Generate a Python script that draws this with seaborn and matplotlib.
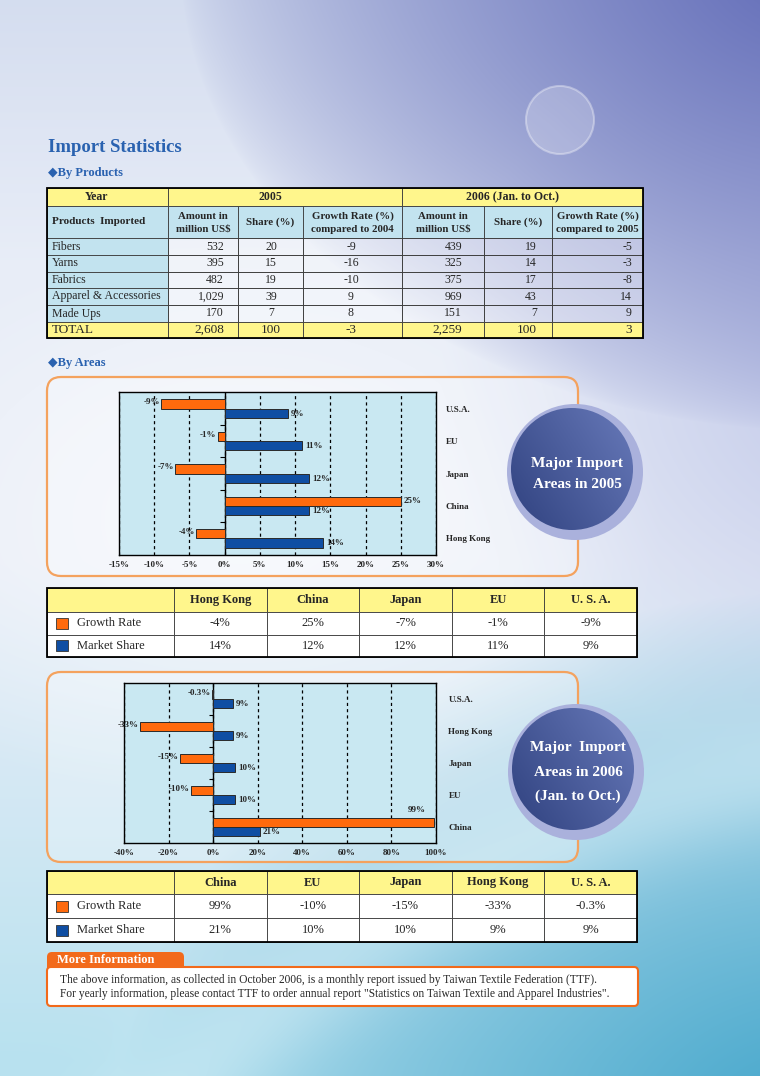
import numpy as np
import pandas as pd
import matplotlib
matplotlib.use("Agg")
import matplotlib.pyplot as plt
from matplotlib.patches import Rectangle, FancyBboxPatch, Circle
import seaborn as sns

# ---- data ----
products = ["Fibers", "Yarns", "Fabrics", "Apparel & Accessories", "Made Ups"]
amount_2005 = [532, 395, 482, 1029, 170]
share_2005 = [20, 15, 19, 39, 7]
growth_2005 = [-9, -16, -10, 9, 8]
amount_2006 = [439, 325, 375, 969, 151]
share_2006 = [19, 14, 17, 43, 7]
growth_2006 = [-5, -3, -8, 14, 9]
total_2005 = [2608, 100, -3]
total_2006 = [2259, 100, 3]

areas_2005 = ["U.S.A.", "EU", "Japan", "China", "Hong Kong"]
area_growth_2005 = [-9, -1, -7, 25, -4]
area_share_2005 = [9, 11, 12, 12, 14]

areas_2006 = ["U.S.A.", "Hong Kong", "Japan", "EU", "China"]
area_growth_2006 = [-0.3, -33, -15, -10, 99]
area_share_2006 = [9, 9, 10, 10, 21]

series_names = ["Growth Rate", "Market Share"]
table_area_names = {"U.S.A.": "U. S. A."}

ORANGE = "#ff6a0d"
BLUE = "#0f4ea3"
YELLOW = "#fff68c"
LIGHT_BLUE = "#c2e3ef"
TITLE_BLUE = "#2a62b0"
BOX_ORANGE = "#f4a25e"

W, H = 760, 1076

sns.set_style("white")
plt.rcParams["font.family"] = ["Liberation Serif", "DejaVu Sans"]

fig = plt.figure(figsize=(W / 100, H / 100), dpi=100)

# page axes in pixel coordinates
page = fig.add_axes([0, 0, 1, 1])
page.set_xlim(0, W)
page.set_ylim(H, 0)
page.axis("off")

# ---- background ----
yy, xx = np.mgrid[0:H, 0:W].astype(float)
img = np.ones((H, W, 3)) * np.array([0.91, 0.93, 0.97])


def blend(img, w, color):
    w = np.clip(w, 0, 1)[..., None]
    return img * (1 - w) + np.array(color) * w


# top band tint
img = blend(img, np.clip(1 - yy / 260, 0, 1) * 0.45, (0.74, 0.79, 0.90))
# right side lavender
r = np.hypot((xx - 860) / 420, (yy - 380) / 380)
img = blend(img, np.clip(1 - r, 0, 1) * 0.7, (0.70, 0.73, 0.89))
# lower cyan
img = blend(img, np.clip((yy - 560) / 500, 0, 1) ** 1.1 * 0.65, (0.62, 0.86, 0.92))
# bottom right teal
r = np.hypot((xx - 830) / 720, (yy - 1150) / 560)
img = blend(img, np.clip(1 - r, 0, 1) ** 0.9, (0.25, 0.64, 0.79))
# top right purple
r = np.hypot((xx - 820) / 640, (yy + 40) / 470)
img = blend(img, np.clip(1 - r, 0, 1) ** 0.7, (0.38, 0.42, 0.72))
# light centre
r = np.hypot((xx - 240) / 420, (yy - 520) / 290)
img = blend(img, np.clip(1 - r, 0, 1) * 0.65, (1.0, 1.0, 1.0))
# soft light swoosh in the lower part
d = np.hypot(xx - 1000, yy - 1900)
img = blend(img, np.exp(-((d - 1150) / 60) ** 2) * 0.35, (0.9, 0.97, 0.99))
page.imshow(img, extent=[0, W, H, 0], aspect="auto", zorder=0)

# decorative bubble
page.add_patch(Circle((560, 120), 34, fc=(1, 1, 1, 0.22), ec=(1, 1, 1, 0.35), lw=1.5, zorder=1))

# ---- titles ----
page.text(48, 147, "Import Statistics", fontsize=13.5, fontweight="bold",
          color=TITLE_BLUE, va="center", ha="left")
page.text(48, 173, "◆By Products", fontsize=9, fontweight="bold",
          color=TITLE_BLUE, va="center", ha="left")
page.text(48, 363, "◆By Areas", fontsize=9, fontweight="bold",
          color=TITLE_BLUE, va="center", ha="left")


def cell(x0, y0, x1, y1, fc, lw=0.6):
    page.add_patch(Rectangle((x0, y0), x1 - x0, y1 - y0, fc=fc, ec="#3a3a3a", lw=lw, zorder=2))


# ---- table 1: by products ----
col_x = [47, 168, 238, 303, 402, 484, 552, 643]
row_y = [188, 206, 238, 255, 272, 288, 305, 322, 338]

cell(col_x[0], row_y[0], col_x[1], row_y[1], YELLOW)
cell(col_x[1], row_y[0], col_x[4], row_y[1], YELLOW)
cell(col_x[4], row_y[0], col_x[7], row_y[1], YELLOW)
page.text(97, 197, "Year", fontsize=8.5, fontweight="bold", ha="center", va="center", zorder=3)
page.text(270, 197, "2005", fontsize=8.5, fontweight="bold", ha="center", va="center", zorder=3)
page.text(513, 197, "2006 (Jan. to Oct.)", fontsize=8.5, fontweight="bold", ha="center", va="center", zorder=3)

sub_headers = ["Amount in\nmillion US$", "Share (%)", "Growth Rate (%)\ncompared to 2004",
               "Amount in\nmillion US$", "Share (%)", "Growth Rate (%)\ncompared to 2005"]
cell(col_x[0], row_y[1], col_x[1], row_y[2], LIGHT_BLUE)
page.text(52, 222, "Products  Imported", fontsize=8, fontweight="bold", ha="left", va="center", zorder=3)
for i, txt in enumerate(sub_headers):
    cell(col_x[i + 1], row_y[1], col_x[i + 2], row_y[2], LIGHT_BLUE)
    page.text((col_x[i + 1] + col_x[i + 2]) / 2, 222.5, txt, fontsize=7.8, fontweight="bold",
              ha="center", va="center", linespacing=1.55, zorder=3)

# x position and alignment of each data column
data_pos = [(224, "right"), (271, "center"), (351, "center"),
            (462, "right"), (537, "right"), (632, "right")]
for r_i, name in enumerate(products):
    y0, y1 = row_y[r_i + 2], row_y[r_i + 3]
    cell(col_x[0], y0, col_x[1], y1, LIGHT_BLUE)
    for c in range(1, 7):
        cell(col_x[c], y0, col_x[c + 1], y1, (1, 1, 1, 0.35))
    vals = [f"{amount_2005[r_i]:,}", f"{share_2005[r_i]}", f"{growth_2005[r_i]}",
            f"{amount_2006[r_i]:,}", f"{share_2006[r_i]}", f"{growth_2006[r_i]}"]
    yc = (y0 + y1) / 2
    page.text(52, yc, name, fontsize=8.5, ha="left", va="center", zorder=3)
    for (x, ha), v in zip(data_pos, vals):
        page.text(x, yc, v, fontsize=8.5, ha=ha, va="center", zorder=3)

y0, y1 = row_y[-2], row_y[-1]
for c in range(7):
    cell(col_x[c], y0, col_x[c + 1], y1, YELLOW)
yc = (y0 + y1) / 2
page.text(52, yc, "TOTAL", fontsize=9.5, ha="left", va="center", zorder=3)
tot_vals = [f"{total_2005[0]:,}", f"{total_2005[1]}", f"{total_2005[2]}",
            f"{total_2006[0]:,}", f"{total_2006[1]}", f"{total_2006[2]}"]
for (x, ha), v in zip(data_pos, tot_vals):
    page.text(x, yc, v, fontsize=9.5, ha=ha, va="center", zorder=3)
page.add_patch(Rectangle((47, 188), 643 - 47, 338 - 188, fc="none", ec="black", lw=1.3, zorder=4))


# ---- rounded boxes and circles ----
def round_box(x0, y0, x1, y1):
    page.add_patch(FancyBboxPatch((x0, y0), x1 - x0, y1 - y0,
                                  boxstyle="round,pad=0,rounding_size=14",
                                  fc=(1, 1, 1, 0.25), ec=BOX_ORANGE, lw=1.6, zorder=1))


def badge(cx, cy, lines, text_y, spacing):
    page.add_patch(Circle((cx, cy), 68, fc="#aab1dc", ec="none", zorder=3))
    inner = Circle((cx - 3, cy - 3), 61, fc="none", ec="none", zorder=4)
    page.add_patch(inner)
    gy, gx = np.mgrid[0:64, 0:64] / 63.0
    grad = np.clip(0.25 + 0.55 * gx - 0.35 * gy + 0.3, 0, 1)
    c0 = np.array([0.14, 0.21, 0.45])
    c1 = np.array([0.38, 0.45, 0.70])
    gimg = c0 + (c1 - c0) * grad[..., None]
    im = page.imshow(gimg, extent=[cx - 64, cx + 58, cy + 58, cy - 64], zorder=4, aspect="auto")
    im.set_clip_path(inner)
    for k, line in enumerate(lines):
        page.text(cx + 2, text_y + k * spacing, line, fontsize=11, fontweight="bold",
                  color="white", ha="center", va="center", zorder=5)


round_box(47, 377, 578, 576)
badge(575, 472, ["Major Import", "Areas in 2005"], 463, 22)
round_box(47, 672, 578, 862)
badge(576, 772, ["Major  Import", "Areas in 2006", "(Jan. to Oct.)"], 748, 24)


# ---- bar charts ----
def px_axes(x0, y0, x1, y1):
    return fig.add_axes([x0 / W, 1 - y1 / H, (x1 - x0) / W, (y1 - y0) / H])


def area_chart(ax, areas, growth, share, xlim, step, sep_len):
    df = pd.DataFrame({
        "area": areas * 2,
        "value": growth + share,
        "series": [series_names[0]] * len(areas) + [series_names[1]] * len(areas),
    })
    ax.set_facecolor("#c9e8f2")
    sns.barplot(data=df, x="value", y="area", hue="series", order=areas,
                hue_order=series_names, palette=[ORANGE, BLUE], orient="h",
                width=0.56, gap=0, saturation=1, edgecolor="#2a2a2a",
                linewidth=0.7, legend=False, ax=ax, zorder=3)
    ax.set_xlim(*xlim)
    ticks = np.arange(xlim[0], xlim[1] + step / 2, step)
    ax.set_xticks(ticks)
    ax.set_xticklabels([f"{t:g}%" for t in ticks], fontsize=6.5, fontweight="bold")
    ax.grid(axis="x", color="black", linestyle=(0, (2.5, 2.5)), lw=0.9, zorder=1)
    ax.grid(axis="y", visible=False)
    ax.axvline(0, color="black", lw=1.0, zorder=2)
    ax.hlines(np.arange(len(areas) - 1) + 0.5, -sep_len, 0, colors="black", lw=0.8, zorder=2)
    ax.yaxis.tick_right()
    ax.tick_params(axis="y", length=0, pad=7, labelsize=6.5)
    ax.tick_params(axis="x", length=0, pad=4)
    for lab in ax.get_yticklabels():
        lab.set_fontweight("bold")
    ax.set_xlabel("")
    ax.set_ylabel("")
    for sp in ax.spines.values():
        sp.set_visible(True)
        sp.set_color("black")
        sp.set_linewidth(1.0)

    # value labels
    for bar in ax.containers[0]:
        v = bar.get_width()
        y, h = bar.get_y(), bar.get_height()
        txt = f"{v:g}%"
        if v < 0:
            ax.annotate(txt, (v, y + 0.3 * h), xytext=(-1, 0), textcoords="offset points",
                        ha="right", va="center", fontsize=6.5, fontweight="bold", zorder=5)
        elif v > 0.9 * xlim[1]:
            ax.annotate(txt, (v, y), xytext=(-6, 3), textcoords="offset points",
                        ha="right", va="bottom", fontsize=6.5, fontweight="bold", zorder=5)
        else:
            ax.annotate(txt, (v, y + 0.4 * h), xytext=(2, 0), textcoords="offset points",
                        ha="left", va="center", fontsize=6.5, fontweight="bold", zorder=5)
    for bar in ax.containers[1]:
        v = bar.get_width()
        y, h = bar.get_y(), bar.get_height()
        ax.annotate(f"{v:g}%", (v, y + 0.55 * h), xytext=(2, 0), textcoords="offset points",
                    ha="left", va="center", fontsize=6.5, fontweight="bold", zorder=5)


ax1 = px_axes(119, 392, 436, 555)
area_chart(ax1, areas_2005, area_growth_2005, area_share_2005, (-15, 30), 5, 0.6)

ax2 = px_axes(124, 683, 436, 843)
area_chart(ax2, areas_2006, area_growth_2006, area_share_2006, (-40, 100), 20, 1.8)
ax2.tick_params(axis="y", pad=9)


# ---- legend tables ----
def legend_table(y_edges, areas, growth, share):
    xs = [47, 174] + [174 + (637 - 174) * (i + 1) / 5 for i in range(5)]
    names = [table_area_names.get(a, a) for a in areas[::-1]]
    rows = [[f"{v:g}%" for v in growth[::-1]], [f"{v:g}%" for v in share[::-1]]]
    for c in range(6):
        cell(xs[c], y_edges[0], xs[c + 1], y_edges[1], YELLOW)
        if c > 0:
            page.text((xs[c] + xs[c + 1]) / 2, (y_edges[0] + y_edges[1]) / 2, names[c - 1],
                      fontsize=9, fontweight="bold", ha="center", va="center", zorder=3)
    for r_i in range(2):
        ya, yb = y_edges[r_i + 1], y_edges[r_i + 2]
        yc = (ya + yb) / 2
        for c in range(6):
            cell(xs[c], ya, xs[c + 1], yb, "white")
        page.add_patch(Rectangle((56, yc - 5.5), 12, 11, fc=[ORANGE, BLUE][r_i],
                                 ec="#333333", lw=0.6, zorder=3))
        page.text(77, yc, series_names[r_i], fontsize=9, ha="left", va="center", zorder=3)
        for c in range(5):
            page.text((xs[c + 1] + xs[c + 2]) / 2, yc, rows[r_i][c], fontsize=9,
                      ha="center", va="center", zorder=3)
    page.add_patch(Rectangle((47, y_edges[0]), 637 - 47, y_edges[-1] - y_edges[0],
                             fc="none", ec="black", lw=1.3, zorder=4))


legend_table([588, 612, 634.5, 657], areas_2005, area_growth_2005, area_share_2005)
legend_table([871, 894, 918, 942], areas_2006, area_growth_2006, area_share_2006)

# ---- more information ----
page.add_patch(FancyBboxPatch((47, 952), 137, 20, boxstyle="round,pad=0,rounding_size=5",
                              fc="#f26a1b", ec="none", zorder=2))
page.add_patch(FancyBboxPatch((47, 967), 591, 39, boxstyle="round,pad=0,rounding_size=4",
                              fc="white", ec="#f26a1b", lw=1.5, zorder=3))
page.text(57, 960, "More Information", fontsize=9, fontweight="bold", color="white",
          ha="left", va="center", zorder=4)
page.text(60, 980, "The above information, as collected in October 2006, is a monthly report "
          "issued by Taiwan Textile Federation (TTF).", fontsize=8.3, ha="left", va="center", zorder=4)
page.text(60, 994, "For yearly information, please contact TTF to order annual report "
          "\"Statistics on Taiwan Textile and Apparel Industries\".", fontsize=8.3,
          ha="left", va="center", zorder=4)

fig.savefig("out.png", dpi=100)
